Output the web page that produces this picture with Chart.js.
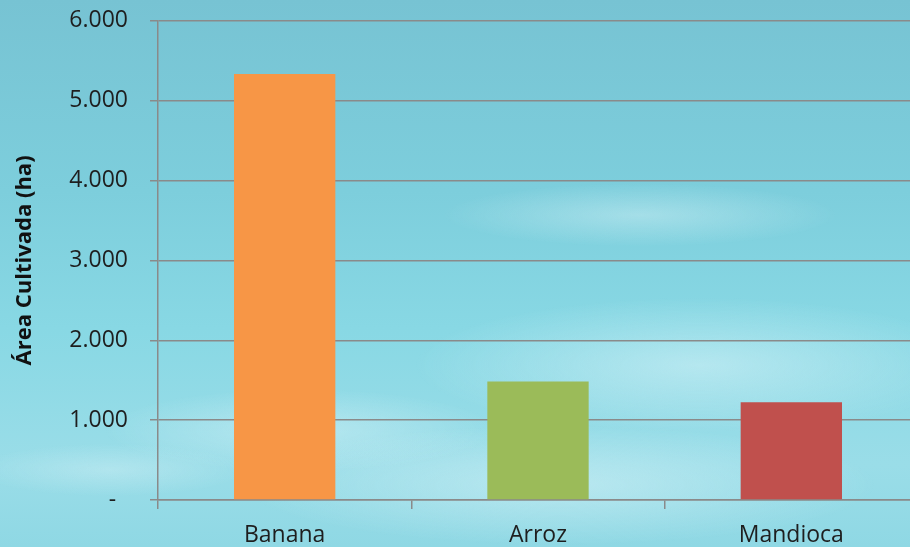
<!DOCTYPE html>
<html>
<head>
<meta charset="utf-8">
<script src="https://cdn.jsdelivr.net/npm/chart.js@4"></script>
<style>
  html, body { margin: 0; padding: 0; overflow: hidden; }
  body {
    width: 910px; height: 547px;
    background:
      radial-gradient(ellipse 280px 45px at 640px 215px, rgba(235,250,252,0.35), rgba(235,250,252,0) 70%),
      radial-gradient(ellipse 380px 90px at 700px 365px, rgba(230,248,252,0.45), rgba(230,248,252,0) 75%),
      radial-gradient(ellipse 260px 55px at 300px 430px, rgba(230,248,252,0.4), rgba(230,248,252,0) 75%),
      radial-gradient(ellipse 420px 80px at 560px 485px, rgba(225,246,250,0.45), rgba(225,246,250,0) 75%),
      radial-gradient(ellipse 180px 35px at 110px 470px, rgba(220,244,248,0.35), rgba(220,244,248,0) 75%),
      linear-gradient(180deg, #77c3d3 0%, #7dcedc 35%, #88d8e4 60%, #9adde8 85%, #8fd8e4 100%);
  }
  #wrap { position: absolute; left: 0; top: -15px; width: 930px; height: 562px; }
</style>
</head>
<body>
<div id="wrap"><canvas id="areaChart"></canvas></div>
<script>
// Dados
const culturas = ['Banana', 'Arroz', 'Mandioca'];
const areas = [5335, 1483, 1224];
const cores = ['#F79646', '#9BBB59', '#C0504D'];
const yTicks = [0, 1000, 2000, 3000, 4000, 5000, 6000];

function formatarMil(v) {
    if (v === 0) return '-  ';
    return String(v).replace(/\B(?=(\d{3})+(?!\d))/g, '.');
}

new Chart(document.getElementById('areaChart'), {
    type: 'bar',
    data: {
        labels: culturas,
        datasets: [{
            label: 'Área Cultivada (ha)',
            data: areas,
            backgroundColor: cores,
            borderWidth: 0,
            categoryPercentage: 1,
            barPercentage: 0.4
        }]
    },
    options: {
        responsive: true,
        maintainAspectRatio: false,
        animation: false,
        layout: { padding: { left: 12, right: 12, top: 4, bottom: 0 } },
        plugins: {
            legend: { display: false },
            tooltip: { enabled: false }
        },
        scales: {
            x: {
                grid: { drawOnChartArea: false, drawTicks: true, tickLength: 9, color: '#8a8a8a', lineWidth: 1.5 },
                border: { color: '#8a8a8a', width: 1.5 },
                ticks: { color: '#1e1e1e', font: { family: 'Open Sans', size: 23 }, padding: 13 },
                afterFit: s => { s.height = 47; }
            },
            y: {
                min: 0,
                max: 6000,
                afterBuildTicks: s => { s.ticks = yTicks.map(v => ({ value: v })); },
                grid: { color: '#8a8a8a', lineWidth: 1.5, tickLength: 8 },
                border: { color: '#8a8a8a', width: 1.5 },
                ticks: {
                    color: '#1e1e1e',
                    font: { family: 'Open Sans', size: 23 },
                    padding: 22,
                    callback: v => formatarMil(v)
                },
                title: {
                    display: true,
                    text: 'Área Cultivada (ha)',
                    color: '#111',
                    font: { family: 'Open Sans', size: 22, weight: 'bold' },
                    padding: { top: 0, bottom: 0 }
                },
                afterFit: s => { s.width = 146; }
            }
        }
    }
});
</script>
</body>
</html>
